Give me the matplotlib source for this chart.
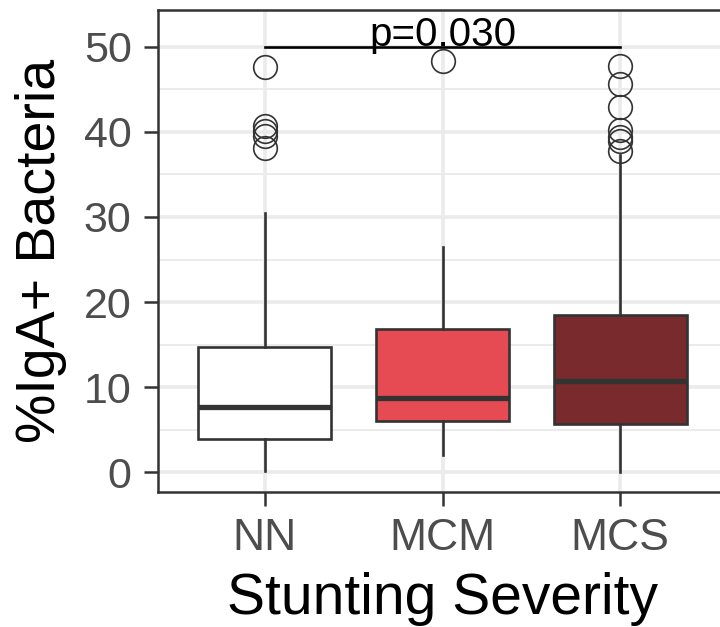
import matplotlib.pyplot as plt
from matplotlib.ticker import MultipleLocator

plt.rcParams['font.family'] = ['Liberation Sans', 'DejaVu Sans']

# stunting groups and their box statistics (%IgA+ bacteria)
groups = ['NN', 'MCM', 'MCS']
q1 = [3.9, 6.0, 5.6]
medians = [7.6, 8.7, 10.7]
q3 = [14.7, 16.8, 18.5]
whislo = [0.1, 2.0, 0.0]
whishi = [30.5, 26.5, 37.3]
outliers = [
    [47.7, 40.7, 40.1, 39.5, 38.1],
    [48.3],
    [47.8, 45.6, 42.9, 40.2, 39.4, 38.9, 37.8],
]
fills = ['#FFFFFF', '#E64A53', '#782A2D']

p_label = 'p=0.030'
bracket_y = 50.0

stats = []
for i, g in enumerate(groups):
    stats.append({'label': g, 'q1': q1[i], 'med': medians[i], 'q3': q3[i],
                  'whislo': whislo[i], 'whishi': whishi[i], 'fliers': outliers[i]})

fig = plt.figure(figsize=(7.2, 6.27), dpi=100)
ax = fig.add_axes([158 / 720, 1 - 492 / 627, 569 / 720, 482 / 627])

pos = list(range(1, len(groups) + 1))
edge = '#333333'
bp = ax.bxp(stats, positions=pos, widths=0.75, patch_artist=True,
            boxprops=dict(edgecolor=edge, linewidth=1.9),
            medianprops=dict(color=edge, linewidth=3.8, solid_capstyle='butt'),
            whiskerprops=dict(color=edge, linewidth=1.9),
            capprops=dict(linewidth=0),
            flierprops=dict(marker='o', markersize=17, markerfacecolor='none',
                            markeredgecolor=edge, markeredgewidth=1.2),
            zorder=3)
for patch, c in zip(bp['boxes'], fills):
    patch.set_facecolor(c)

# significance bracket between NN and MCS
ax.plot([pos[0], pos[2]], [bracket_y, bracket_y], color='black', linewidth=1.9,
        zorder=4)
ax.text((pos[0] + pos[2]) / 2, bracket_y + 0.15, p_label, ha='center',
        va='baseline', fontsize=29, color='black', zorder=5)

ax.set_xlim(0.4, 3.6)
ax.set_ylim(-2.35, 54.35)
ax.yaxis.set_major_locator(MultipleLocator(10))
ax.yaxis.set_minor_locator(MultipleLocator(5))
ax.set_xticks(pos)
ax.set_xticklabels(groups)

ax.grid(True, which='major', color='#EBEBEB', linewidth=2.6, zorder=0)
ax.grid(True, which='minor', axis='y', color='#EBEBEB', linewidth=1.4, zorder=0)
ax.set_axisbelow(True)
for s in ax.spines.values():
    s.set_color(edge)
    s.set_linewidth(1.8)

ax.tick_params(axis='both', which='major', length=10, width=1.8, color=edge,
               labelsize=31, labelcolor='#4D4D4D', pad=9)
ax.tick_params(axis='x', which='major', labelsize=32)
ax.tick_params(axis='y', which='minor', length=0)

ax.set_xlabel('Stunting Severity', fontsize=41, labelpad=9)
ax.set_ylabel('%IgA+ Bacteria', fontsize=40, labelpad=12)

fig.savefig('out.png', dpi=100)
